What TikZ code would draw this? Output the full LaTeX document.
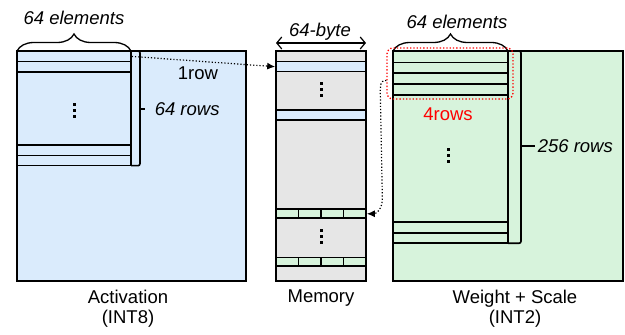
\documentclass[tikz,border=0pt]{standalone}
\usepackage{fontspec}
\setmainfont{Liberation Sans}
\usepackage{xcolor}
\usetikzlibrary{decorations.pathreplacing,arrows.meta}

\definecolor{actblue}{HTML}{DAEBFC}
\definecolor{wgtgreen}{HTML}{D7F3DC}
\definecolor{memgray}{HTML}{E6E6E6}

\begin{document}
\begin{tikzpicture}[x=1pt,y=1pt,line width=1.6pt,
	txt/.style={font=\fontsize{18.5}{20}\selectfont},
	itxt/.style={font=\fontsize{18.5}{20}\selectfont\itshape},
	mrow/.style={draw,inner sep=0,minimum width=90,minimum height=10},
	topbrace/.style={decorate,line width=1.3pt,decoration={brace,amplitude=17pt}},
	flow/.style={dotted,line width=1.2pt,-{Latex[length=8pt,width=7pt]}}]
			\useasboundingbox (0,0) rectangle (625,335);

			% activation
			\draw[fill=actblue] (17,54) rectangle (246,284);
			\draw (17,169.3) rectangle (131,284);
			\foreach \y in {273.3,262.7,190,179.3}
				\draw (17,\y) -- (131,\y);
			\node[inner sep=0,minimum width=114,minimum height=10.7] (arow) at (74,278.6) {};
			\foreach \d in {0,1,2}
				\fill (72.5,232-\d*6) rectangle ++(3,-3);
			\draw[rounded corners=2pt] (131,284) -- (140,284) -- (140,169.3) -- (131,169.3);
			\draw (140,226) -- (145,226);
			\node[itxt,anchor=west,inner sep=1pt] at (153,226) {64 rows};
			\draw[topbrace] (17,284) -- (131,284);
			\node[itxt] at (74,317) {64 elements};
			\node[txt,align=center] at (128,26.7) {Activation\\(INT8)};

			% memory
			\draw[fill=memgray] (276,54) rectangle (366,284);
			\node[mrow,fill=actblue] (mb1) at (321,268.3) {};
			\node[mrow,fill=actblue] (mb2) at (321,220) {};
			\node[mrow,fill=wgtgreen,minimum height=9] (mg1) at (321,121.2) {};
			\node[mrow,fill=wgtgreen,minimum height=8.7] (mg2) at (321,73.3) {};
			\foreach \x in {298.5,321,343.5} {
				\draw (\x,116.7) -- (\x,125.7);
				\draw (\x,69) -- (\x,77.7);
			}
			\foreach \d in {0,1,2} {
				\fill (319.5,253-\d*6) rectangle ++(3,-3);
				\fill (319.5,106-\d*6) rectangle ++(3,-3);
			}
			\draw[{Straight Barb[length=5pt,width=12pt]}-{Straight Barb[length=5pt,width=12pt]},line width=1.2pt] (276,292) -- (366,292);
			\node[itxt] at (320,303.3) {64-byte};
			\node[txt] at (321,36.7) {Memory};

			% weight + scale
			\draw[fill=wgtgreen] (393,54) rectangle (623,284);
			\draw (393,91.7) rectangle (508,284);
			\foreach \y in {272.3,261.7,250.7,239.7,112.7,101.7}
				\draw (393,\y) -- (508,\y);
			\foreach \d in {0,1,2}
				\fill (446.5,187-\d*6) rectangle ++(3,-3);
			\draw[rounded corners=2pt] (508,284) -- (521,284) -- (521,91.7) -- (508,91.7);
			\draw (521,189) -- (535,189);
			\node[itxt,anchor=west,inner sep=1pt] at (536,189.3) {256 rows};
			\draw[topbrace] (393,284) -- (508,284);
			\node[itxt] at (457,313) {64 elements};
			\node[draw=red,dotted,line width=1.3pt,rounded corners=6pt,inner sep=0,
				minimum width=126,minimum height=51] (wred) at (450,261.5) {};
			\node[txt,text=red] at (448,221) {4rows};
			\node[txt,align=center] at (515,26.7) {Weight + Scale\\(INT2)};

			% data movement
			\draw[flow] (arow.east) -- (mb1.west);
			\node[txt] at (198,261.7) {1row};
			\draw[flow] ([yshift=-7pt]wred.west) .. controls +(-7,0) and +(0,8) .. ++(-6,-14)
				-- ++(2,-104) .. controls +(0,-10) and +(10,0) .. (mg1.east);
		\end{tikzpicture}
\end{document}
